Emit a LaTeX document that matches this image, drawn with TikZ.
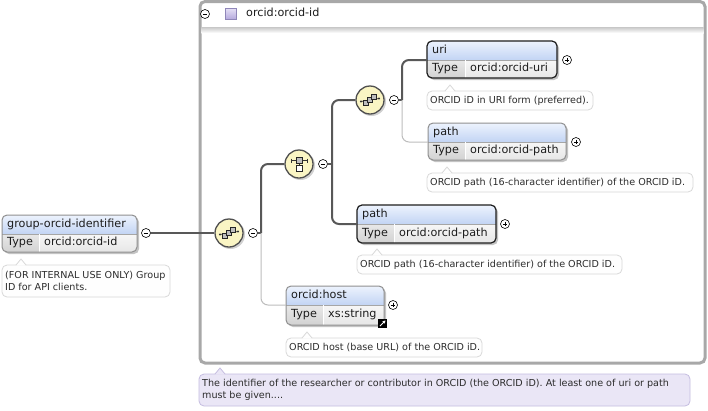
\documentclass[tikz,border=0pt]{standalone}
\usepackage{fontspec}
\setmainfont{DejaVu Sans}
\usetikzlibrary{calc,arrows.meta}
\definecolor{conn}{HTML}{585858}
\definecolor{optconn}{HTML}{BDBDBD}
\definecolor{compfill}{HTML}{FAF5C4}
\definecolor{compdraw}{HTML}{505050}
\definecolor{hdrtop}{HTML}{EDF3FD}
\definecolor{hdrbot}{HTML}{C2D4F4}
\definecolor{typeltop}{HTML}{E8E8E8}
\definecolor{typelbot}{HTML}{D2D2D2}
\definecolor{typertop}{HTML}{F7F7F7}
\definecolor{typerbot}{HTML}{E6E6E6}
\definecolor{shadowcol}{HTML}{C4C4C4}
\definecolor{outerbord}{HTML}{A8A8A8}
\definecolor{balbord}{HTML}{D9D9D9}
\definecolor{balwhite}{HTML}{FEFEFE}
\definecolor{lavfill}{HTML}{EAE6F6}
\definecolor{lavbord}{HTML}{C5BDE0}
\definecolor{sqtop}{HTML}{E4DEF5}
\definecolor{sqbot}{HTML}{B3A7DC}
\definecolor{sqbord}{HTML}{8F86B8}
\definecolor{reqbord}{HTML}{1E1E1E}
\definecolor{optbord}{HTML}{909090}
\definecolor{txt}{HTML}{1C1C1C}
\definecolor{baltxt}{HTML}{2C2C2C}
\tikzset{
  boxtext/.style={font=\fontsize{11.2}{13}\selectfont, text=txt, inner sep=0pt, anchor=west, text height=8.2pt, text depth=2.3pt},
  baltext/.style={font=\fontsize{9.6}{12}\selectfont, text=baltxt, inner sep=0pt, anchor=west, text height=7pt, text depth=2pt},
  balmulti/.style={font=\fontsize{9.6}{12.2}\selectfont, text=baltxt, inner sep=0pt, anchor=west, align=left},
  req/.style={draw=conn, line width=2pt, rounded corners=7pt},
  opt/.style={draw=optconn, line width=1pt, rounded corners=7pt},
  comp/.style={circle, minimum size=28pt, inner sep=0pt, fill=compfill, draw=compdraw, line width=1.3pt},
  pm/.style={circle, minimum size=9pt, inner sep=0pt, draw=black, line width=0.6pt, fill=white},
}
% element box: #1 name #2 x1 #3 y1 #4 x2 #5 y2 #6 ydiv #7 xdiv #8 title #9 type; border colour \ebord
\newcommand\xelem[9]{%
  \fill[shadowcol, rounded corners=5pt] ({#2+2},{#3+2}) rectangle ({#4+2},{#5+2});
  \begin{scope}
    \clip[rounded corners=5pt] (#2,#3) rectangle (#4,#5);
    \fill[top color=hdrtop, bottom color=hdrbot] (#2,#3) rectangle (#4,#6);
    \fill[top color=typeltop, bottom color=typelbot] (#2,#6) rectangle (#7,#5);
    \fill[top color=typertop, bottom color=typerbot] (#7,#6) rectangle (#4,#5);
  \end{scope}
  \draw[draw=gray!70, line width=0.6pt] (#2,#6) -- (#4,#6);
  \draw[draw=white, line width=0.8pt] (#7,#6) -- (#7,#5);
  \draw[draw=\ebord, line width=\ebw, rounded corners=5pt] (#2,#3) rectangle (#4,#5);
  \node[boxtext] (#1-title) at ({#2+5},{(#3+#6)/2}) {#8};
  \node[boxtext] (#1-typel) at ({#2+5},{(#6+#5)/2}) {Type};
  \node[boxtext] (#1-type) at ({#7+5},{(#6+#5)/2}) {#9};
  \coordinate (#1-in) at (#2,#6);
}
% balloon: #1 name #2 x1 #3 y1 #4 x2 #5 y2 #6 pointer x #7 text; colours \balfill \baldraw, text style \balstyle
\newcommand\xballoon[7]{%
  \filldraw[fill=\balfill, draw=\baldraw, line width=0.8pt, rounded corners=5pt] (#2,#3) rectangle (#4,#5);
  \fill[fill=\balfill] ({#6-5},{#3+0.7}) -- (#6,{#3-6}) -- ({#6+5},{#3+0.7}) -- cycle;
  \draw[draw=\baldraw, line width=0.8pt, line join=round] ({#6-5},#3) -- (#6,{#3-6}) -- ({#6+5},#3);
  \node[\balstyle] (#1) at ({#2+3},{(#3+#5)/2}) {#7};
}
\newcommand\xminus[3]{%
  \node[pm] (#1) at (#2,#3) {};
  \draw[line width=0.7pt] ($(#1)+(-2.4,0)$) -- ($(#1)+(2.4,0)$);
}
\newcommand\xplus[3]{%
  \node[pm] (#1) at (#2,#3) {};
  \draw[line width=0.7pt] ($(#1)+(-2.4,0)$) -- ($(#1)+(2.4,0)$);
  \draw[line width=0.7pt] ($(#1)+(0,-2.4)$) -- ($(#1)+(0,2.4)$);
}
\newcommand\xseqicon[1]{%
  \begin{scope}[shift={(#1.center)}]
    \draw[black!80, line width=0.8pt] (-9,1.5) -- (9,-1.5);
    \fill[black!80] (-9,1.5) circle (1.2pt);
    \fill[black!80] (9,-1.5) circle (1.2pt);
    \filldraw[fill=gray!50, draw=black!85, line width=0.6pt] (-6.5,0.5) rectangle (-1.5,5.5);
    \filldraw[fill=gray!50, draw=black!85, line width=0.6pt] (-2.5,-2.5) rectangle (2.5,2.5);
    \filldraw[fill=gray!50, draw=black!85, line width=0.6pt] (1.5,-5.5) rectangle (6.5,-0.5);
  \end{scope}
}
\newcommand\xchoiceicon[1]{%
  \begin{scope}[shift={(#1.center)}]
    \draw[black!80, line width=0.8pt] (-8,-3.5) -- (8,-3.5);
    \draw[black!80, line width=0.8pt] (-8,-5.5) -- (-8,-1.5);
    \draw[black!80, line width=0.8pt] (8,-5.5) -- (8,-1.5);
    \draw[black!80, line width=0.7pt] (0,-1) -- (0,1.5);
    \filldraw[fill=gray!50, draw=black!85, line width=0.6pt] (-3,-6.5) rectangle (3,-0.5);
    \filldraw[fill=white, draw=black!85, line width=0.6pt] (-3,1.5) rectangle (3,7.5);
  \end{scope}
}
\begin{document}
\begin{tikzpicture}[x=1pt,y=-1pt]
\useasboundingbox (0,0) rectangle (708,410);
\fill[white] (0,0) rectangle (708,410);

% outer complex type box
\draw[outerbord, line width=3pt, rounded corners=5pt] (200,1.5) rectangle (705,363);
\fill[top color=gray!40, bottom color=white] (201.5,27.5) rectangle (703.5,33);
\xminus{hdrminus}{205}{14}
\filldraw[top color=sqtop, bottom color=sqbot, draw=sqbord, line width=0.6pt] (225,8.5) rectangle (236,19.5);
\node[boxtext] (hdrtitle) at (246,14) {orcid:orcid-id};

% junction coordinates
\coordinate (j1) at (261,233);
\coordinate (j2) at (332,164);
\coordinate (j3) at (402,100);

% compositor shadows and nodes
\fill[black!18] (230.5,234.5) circle (14.5pt);
\fill[black!18] (300.5,165.5) circle (14.5pt);
\fill[black!18] (371.5,101.5) circle (14.5pt);
\node[comp] (seq1) at (229,233) {};
\node[comp] (choice) at (299,164) {};
\node[comp] (seq2) at (370,100) {};
\xseqicon{seq1}
\xchoiceicon{choice}
\xseqicon{seq2}

% element boxes
\def\ebord{optbord}\def\ebw{1pt}
\xelem{grp}{2}{215}{137}{252}{234}{39}{group-orcid-identifier}{orcid:orcid-id}
\def\ebord{reqbord}\def\ebw{1.2pt}
\xelem{uri}{427}{41}{557}{78}{60}{465}{uri}{orcid:orcid-uri}
\def\ebord{optbord}\def\ebw{1pt}
\xelem{pathA}{428}{123}{566}{160}{142}{465}{path}{orcid:orcid-path}
\def\ebord{reqbord}\def\ebw{1.2pt}
\xelem{pathB}{357}{205}{496}{243}{224}{394}{path}{orcid:orcid-path}
\def\ebord{optbord}\def\ebw{1pt}
\xelem{host}{286}{286}{384}{325}{305}{323}{orcid:host}{xs:string}

% minus / plus buttons
\xminus{gm}{146}{233}
\xminus{s1m}{253}{233}
\xminus{cm}{323}{164}
\xminus{s2m}{394}{100}
\xplus{urip}{567}{60}
\xplus{pathAp}{576}{142}
\xplus{pathBp}{505}{224}
\xplus{hostp}{393}{305}

% connectors
\draw[req] (gm) -- (seq1);
\draw[req] (s1m.east) -- (j1);
\draw[req] (j1) |- (choice.west);
\draw[opt] (j1) |- (host-in);
\draw[req] (cm.east) -- (j2);
\draw[req] (j2) |- (seq2.west);
\draw[req] (j2) |- (pathB-in);
\draw[req] (s2m.east) -- (j3);
\draw[req] (j3) |- (uri-in);
\draw[opt] (j3) |- (pathA-in);

% reference icon on host
\fill[black] (378,319) rectangle (387,328);
\draw[white, line width=1pt, -{Stealth[length=3pt,width=3.5pt]}] (380,326) -- (385.5,320.5);

% balloons
\def\balfill{balwhite}\def\baldraw{balbord}\def\balstyle{balmulti}
\xballoon{grpdoc}{2}{265}{170}{297}{21}{(FOR INTERNAL USE ONLY) Group\\ID for API clients.}
\def\balstyle{baltext}
\xballoon{uridoc}{427}{91}{593}{110}{450}{ORCID iD in URI form (preferred).}
\xballoon{pathAdoc}{427}{173}{693}{192}{447}{ORCID path (16-character identifier) of the ORCID iD.}
\xballoon{pathBdoc}{357}{255}{622}{274}{377}{ORCID path (16-character identifier) of the ORCID iD.}
\xballoon{hostdoc}{286}{338}{482}{357}{307}{ORCID host (base URL) of the ORCID iD.}
\def\balfill{lavfill}\def\baldraw{lavbord}\def\balstyle{balmulti}
\xballoon{typedoc}{199}{374}{690}{406}{220}{The identifier of the researcher or contributor in ORCID (the ORCID iD). At least one of uri or path\\must be given....}
\end{tikzpicture}
\end{document}
